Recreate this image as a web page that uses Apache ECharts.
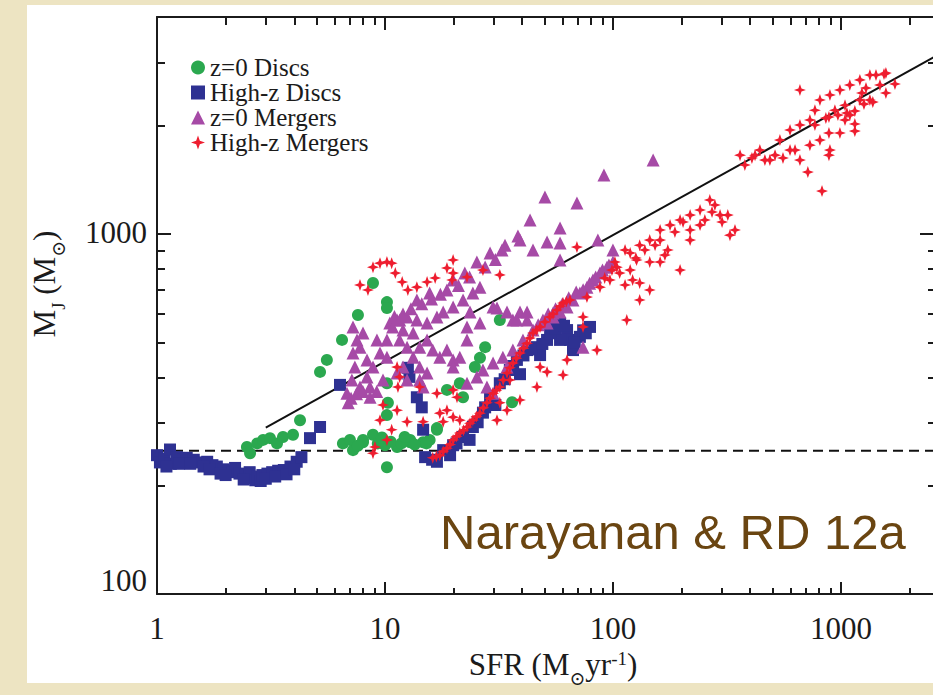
<!DOCTYPE html>
<html>
<head>
<meta charset="utf-8">
<script src="https://cdn.jsdelivr.net/npm/echarts@6/dist/echarts.min.js"></script>
<style>
html,body{margin:0;padding:0;background:#ede4c2;}
#chart{width:933px;height:695px;}
</style>
</head>
<body>
<div id="chart"></div>
<script>
// ---------- data ----------
const xMajorTicks = [1, 10, 100, 1000];
const xMinorTicks = [2, 3, 4, 5, 6, 7, 8, 9, 20, 30, 40, 50, 60, 70, 80, 90, 200, 300, 400, 500, 600, 700, 800, 900, 2000];
const yMajorTicks = [100, 1000];
const yMinorTicks = [200, 300, 400, 500, 600, 700, 800, 900, 2000, 3000];

const seriesNames = ['z=0 Discs', 'High-z Discs', 'z=0 Mergers', 'High-z Mergers'];

const fitLine = [[3, 290], [2560, 3100]];
const thresholdLine = [[1, 250], [2560, 250]];

const z0Discs = [
  [2.48,256],[2.56,246],[2.75,262],[2.92,268],[3.13,271],[3.36,262],[3.57,273],[3.95,277],[4.24,304],
  [6.54,262],[7.24,251],[8.01,264],[8.86,277],[10.0,259],[10.2,225],[11.3,256],[12.9,264],[14.7,264],
  [15.7,268],[16.9,286],[8.86,731],[10.2,647],[10.2,623],[7.61,596],[6.48,508],[5.56,447],[5.19,414],
  [10.2,385],[10.3,340],[10.2,314],[7.02,268],[8.01,268],[12.9,268],[16.9,289],[18.7,369],[22.0,352],
  [21.3,385],[24.8,427],[26.1,453],[27.5,485],[31.9,577],[36.1,341],
  [7.6,258],[9.3,262],[10.6,265],[11.8,262],[13.5,260],[15.2,262],[9.7,272],[12.2,273]
];

const highZDiscs = [
  [1.0,243],[1.03,232],[1.08,238],[1.14,252],[1.15,230],[1.22,240],[1.3,236],[1.35,239],[1.45,236],
  [1.55,232],[1.66,233],[1.75,228],[1.83,226],[1.95,222],[2.05,220],[2.15,218],[2.2,224],[2.3,216],
  [2.45,213],[2.55,218],[2.6,210],[2.7,207],[2.75,212],[2.85,206],[2.9,214],[3.05,216],[3.2,218],
  [3.4,220],[3.6,221],[3.85,226],[4.1,233],[4.3,240],[4.69,271],[5.19,291],[6.35,381],
  [1.1,226],[1.25,230],[1.4,230],[1.6,226],[1.7,222],[1.9,216],[2.0,214],[2.4,208],[3.0,209],
  [3.3,212],[3.7,215],[4.0,222],
  [12.6,425],[12.8,401],[13.8,352],[14.5,330],[14.7,286],[15.0,240],[16.1,236],[16.9,233],
  [18.0,251],[19.9,259],[22.0,273],[24.3,291],[26.9,319],[28.9,352],[31.9,385],[35.3,419],[37.9,447],
  [42.0,476],[46.4,485],[51.4,508],[54.6,552],[58.6,566],[62.9,541],[64.8,508],[66.8,476],[58.6,508],
  [71.6,518],[79.3,552],[19.3,243],[23.5,268],[30.5,335],[39.1,408],[47.9,461],
  [20.6,262],[25.5,300],[27.5,330],[33.5,395],[36.5,430],[40.5,460],[44.0,478],[49.0,495],[53.0,530],
  [56.0,545],[61.0,556],[68.0,500],[74.0,540],[76.0,530]
];

const z0Mergers = [
  [28.9,886],[32.6,903],[25.3,836],[22.4,779],[19.9,745],[39.1,962],[44.6,903],[51.4,950],[58.6,944],
  [58.6,847],[100,903],[100,836],[94.1,809],[87.7,779],[81.7,745],[76.9,712],[71.6,686],[66.8,656],
  [62.9,627],[58.6,607],[54.6,588],[51.4,566],[42.0,577],[39.1,607],[36.4,577],[31.0,623],[26.1,712],
  [24.3,686],[22.0,656],[19.9,627],[18.0,607],[16.9,588],[15.3,566],[13.8,577],[12.5,588],[11.6,577],
  [10.5,566],[13.8,656],[15.7,686],[18.7,699],
  [7.24,552],[7.54,508],[7.24,467],[7.38,427],[7.16,393],[6.81,361],[7.77,376],[8.34,401],[8.86,427],
  [9.51,467],[10.2,508],[10.8,552],[11.3,577],[9.22,508],[8.59,376],[10.2,455],[11.6,508],[12.5,485],
  [13.3,531],[14.2,485],[15.3,508],[16.2,476],[13.3,455],[14.2,427],[15.3,411],[17.4,455],[18.7,476],
  [19.9,447],[22.9,508],[21.3,455],[19.9,427],[12.0,427],[12.5,393],[14.2,393],[8.34,447],[7.77,485],
  [8.01,531],[12.0,541],[9.80,393],[11.3,411],[14.7,376],
  [6.9,340],[7.1,350],[7.5,360],[8.0,365],[8.6,352],[9.2,365],
  [11.0,590],[12.0,600],[13.0,620],[14.5,640],[16.0,660],[17.5,680],[21.0,720],[23.5,760],[27.5,810],[30.5,850],
  [22.9,385],[25.3,401],[26.9,419],[29.8,438],[32.9,455],[36.4,476],[40.3,508],[44.6,541],[49.3,577],
  [54.6,603],[28.0,376],[29.8,361],[34.3,427],[37.9,577],[42.0,607],[34.3,607],[73.9,485],[22.9,552],
  [26.1,566],[29.8,627],[23.6,607],
  [47,560],[52,600],[56,620],[60,640],[64,665],[69,690],[74,700],[79,730],[84,760],[90,795],[96,820],
  [50.3,1267],[69.5,1219],[91.3,1458],[150,1605],[43.3,1094],[38.3,987],[58.6,1039],[33.6,931],[85.9,962]
];

const highZMergers = [
  [7.77,722],[8.42,699],[8.86,809],[9.51,830],[10.2,836],[10.7,830],[11.1,779],[11.9,736],[12.6,699],
  [13.8,712],[15.3,736],[16.6,755],[18.7,805],[19.9,847],[19.9,779],[19.7,745],[26.9,794],[22.9,760],[31.9,770],
  [11.3,427],[11.6,401],[11.4,376],[14.2,376],[9.80,335],[11.3,324],[9.51,304],[12.5,301],[10.7,286],
  [10.2,268],[9.04,256],[8.86,246],[14.7,301],
  [17.4,318],[18.7,324],[19.9,310],[18.0,301],[21.3,304],[16.9,361],[19.9,369],[20.7,352],
  [16.2,239],[17.4,243],[18.7,254],[19.9,268],[21.3,280],[22.9,291],[24.3,304],[26.1,318],[28.0,340],
  [29.8,361],[31.9,376],[34.3,411],[36.4,438],[39.1,467],[42.0,497],[44.6,531],[47.9,552],[52.9,588],
  [56.8,615],[60.4,643],[64.8,656],
  [16.8,241],[18.0,249],[19.3,260],[20.6,274],[22.1,285],[23.6,298],[25.2,311],[27.0,329],[28.9,350],
  [30.8,368],[33.0,393],[35.3,425],[37.7,452],[40.5,482],[43.2,514],[46.2,541],[50.3,570],[54.6,600],
  [58.6,630],[62.5,650],
  [31.9,340],[34.3,324],[31.0,304],[35.3,393],[39.1,346],[46.4,376],[47.9,427],[51.4,414],[60.4,406],
  [62.9,447],[73.9,552],[85.1,476],[73.9,588],[69.5,920],[76.9,668],[87.7,712],[97.0,745],[107,779],
  [119,794],[115,577],[127,847],[119,886],[131,731],[122,745],[104,809],
  [92,755],[113,903],[138,903],[153,931],[187,1013],[203,1080],[272,1151],[301,1080],[161,836],
  [145,699],[99,794],[126,858],[102,836],[113,722],[131,931],[161,1026],[174,903],[218,962],[241,1059],
  [280,1204],[319,1129],[326,993],
  [145,836],[161,962],[169,874],[178,1059],[197,1094],[218,1129],[241,1166],[253,1094],[218,1026],
  [266,1243],[295,1129],[343,1026],[197,794],[131,656],[145,962],
  [361,1656],[379,1555],[420,1656],[441,1711],[488,1605],[514,1656],[540,1824],[598,1945],[661,2008],
  [731,2074],[769,2208],[809,2356],[895,2433],[990,2512],[1094,2594],[1211,2680],[1340,2766],[1425,2766],
  [598,1711],[661,1605],[731,1766],[809,1824],[895,1711],[1042,2074],[1211,2356],[1483,2594],[661,2512],
  [716,1486],[826,1316],[1575,2800],[1726,2610],[1575,2464],[1380,2326],[1236,2464],[1262,2296],
  [1151,2196],[1062,2168],[970,2140],[886,2114],[990,1908],[886,1908],[1151,2021],[1151,1932],[886,1656],
  [407,1626],[464,1605],[557,1626],[629,1711],[769,2008],[859,2099],[941,2208],[1094,2140],[1288,2545],
  [1545,2782],[1042,2280],[1340,2356]
];

// ---------- chart ----------
const X_MIN = 1, X_MAX = 2560, Y_MIN = 100, Y_MAX = 4008;
const serif = '"Liberation Serif","DejaVu Serif",serif';
const ink = '#1b1b1b';
const starPath = 'path://M0,-10 L2.6,-2.6 L10,0 L2.6,2.6 L0,10 L-2.6,2.6 L-10,0 L-2.6,-2.6 Z';

function xAxisDef(position, ticks, len, showLine, showLabel) {
  return {
    type: 'log', logBase: 10, min: X_MIN, max: X_MAX, position: position, gridIndex: 0,
    axisLine: { show: showLine, lineStyle: { color: ink, width: 2 } },
    axisTick: { show: true, inside: true, length: len, customValues: ticks, lineStyle: { color: ink, width: 2 } },
    axisLabel: showLabel ? {
      show: true, customValues: ticks, margin: 19, fontFamily: serif, fontSize: 31, color: ink,
      formatter: function (v) { return String(Math.round(v)); }
    } : { show: false },
    splitLine: { show: false }, minorTick: { show: false }
  };
}
function yAxisDef(position, ticks, len, showLine, showLabel) {
  return {
    type: 'log', logBase: 10, min: Y_MIN, max: Y_MAX, position: position, gridIndex: 0,
    axisLine: { show: showLine, lineStyle: { color: ink, width: 2 } },
    axisTick: { show: true, inside: true, length: len, customValues: ticks, lineStyle: { color: ink, width: 2 } },
    axisLabel: showLabel ? {
      show: true, customValues: ticks, margin: 10, fontFamily: serif, fontSize: 31, color: ink,
      formatter: function (v) { const r = Math.round(v); return r === 100 ? '{lo|' + r + '}' : '{hi|' + r + '}'; },
      rich: {
        lo: { fontFamily: serif, fontSize: 31, color: ink, padding: [0, 0, 28, 0] },
        hi: { fontFamily: serif, fontSize: 31, color: ink, padding: [0, 0, 4, 0] }
      }
    } : { show: false },
    splitLine: { show: false }, minorTick: { show: false }
  };
}

const chart = echarts.init(document.getElementById('chart'), null, { renderer: 'svg', width: 933, height: 695 });

const option = {
  backgroundColor: '#ede4c2',
  animation: false,
  grid: { left: 157, top: 17, width: 777, height: 577, containLabel: false, outerBoundsMode: 'none' },
  xAxis: [
    xAxisDef('bottom', xMajorTicks, 12, true, true),
    xAxisDef('bottom', xMinorTicks, 6, false, false),
    xAxisDef('top', xMajorTicks, 13, true, false),
    xAxisDef('top', xMinorTicks, 8, false, false)
  ],
  yAxis: [
    yAxisDef('left', yMajorTicks, 14, true, true),
    yAxisDef('left', yMinorTicks, 8, false, false),
    yAxisDef('right', yMajorTicks, 14, true, false),
    yAxisDef('right', yMinorTicks, 6, false, false)
  ],
  legend: {
    orient: 'vertical', left: 186, top: 50, itemGap: 0, itemWidth: 14, itemHeight: 14,
    data: seriesNames, selectedMode: false,
    textStyle: { fontFamily: serif, fontSize: 25, color: ink, lineHeight: 24 }
  },
  graphic: [
    { type: 'rect', z: -100, silent: true, shape: { x: 27, y: 5, width: 906, height: 678 }, style: { fill: '#ffffff' } },
    {
      type: 'text', z: 100, x: 46, y: 284, rotation: Math.PI / 2, silent: true,
      style: {
        text: '{m|M}{s|J}{m| (M}{s|⊙}{m|)}', align: 'center', verticalAlign: 'middle',
        rich: {
          m: { fontFamily: serif, fontSize: 31, lineHeight: 35, verticalAlign: 'top', fill: ink },
          s: { fontFamily: serif, fontSize: 19, lineHeight: 19, padding: [20, 0, 0, 0], verticalAlign: 'top', fill: ink }
        }
      }
    },
    {
      type: 'text', z: 100, x: 553, y: 666, silent: true,
      style: {
        text: '{m|SFR (M}{s|⊙}{m|yr}{p|-1}{m|)}', align: 'center', verticalAlign: 'middle',
        rich: {
          m: { fontFamily: serif, fontSize: 31, lineHeight: 35, verticalAlign: 'top', fill: ink },
          s: { fontFamily: serif, fontSize: 19, lineHeight: 19, padding: [20, 0, 0, 0], verticalAlign: 'top', fill: ink },
          p: { fontFamily: serif, fontSize: 19, lineHeight: 19, verticalAlign: 'top', fill: ink }
        }
      }
    },
    {
      type: 'text', z: 100, x: 440, y: 532, silent: true,
      style: { text: 'Narayanan & RD 12a', font: '49px "Liberation Sans", Arial, sans-serif', fill: '#6a4511', align: 'left', verticalAlign: 'middle' }
    }
  ],
  series: [
    { name: 'fit', type: 'line', data: fitLine, symbol: 'none', silent: true, z: 1,
      lineStyle: { color: '#111', width: 2 } },
    { name: 'threshold', type: 'line', data: thresholdLine, symbol: 'none', silent: true, z: 1,
      lineStyle: { color: '#111', width: 2, type: [10, 6] } },
    { name: seriesNames[0], type: 'scatter', data: z0Discs, symbol: 'circle', symbolSize: 12,
      itemStyle: { color: '#2ba84f', opacity: 1 } },
    { name: seriesNames[1], type: 'scatter', data: highZDiscs, symbol: 'rect', symbolSize: 12,
      itemStyle: { color: '#2e3192', opacity: 1 } },
    { name: seriesNames[2], type: 'scatter', data: z0Mergers, symbol: 'triangle', symbolSize: 13,
      itemStyle: { color: '#a64aa6', opacity: 1 } },
    { name: seriesNames[3], type: 'scatter', data: highZMergers, symbol: starPath, symbolSize: 12,
      itemStyle: { color: '#ee1d2f', opacity: 1 } }
  ]
};
chart.setOption(option);
</script>
</body>
</html>
